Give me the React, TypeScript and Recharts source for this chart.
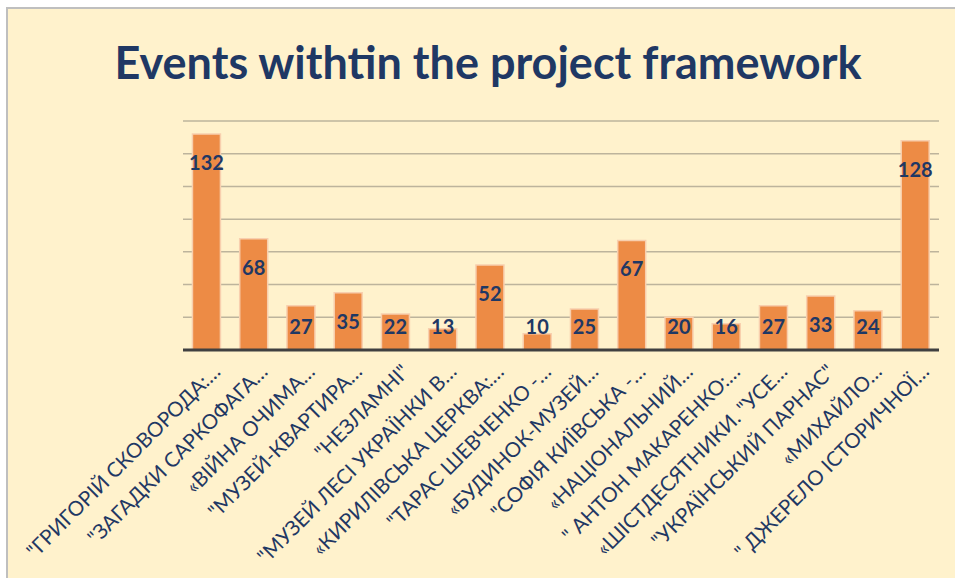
import { BarChart, Bar, XAxis, YAxis, CartesianGrid, LabelList } from "recharts";

const categories = [
  "\"ГРИГОРІЙ СКОВОРОДА:…",
  "\"ЗАГАДКИ САРКОФАГА…",
  "«ВІЙНА ОЧИМА…",
  "\"МУЗЕЙ-КВАРТИРА…",
  "\"НЕЗЛАМНІ\"",
  "\"МУЗЕЙ ЛЕСІ УКРАЇНКИ В…",
  "«КИРИЛІВСЬКА ЦЕРКВА:…",
  "\"ТАРАС ШЕВЧЕНКО -…",
  "«БУДИНОК-МУЗЕЙ…",
  "\"СОФІЯ КИЇВСЬКА -…",
  "«НАЦІОНАЛЬНИЙ…",
  "\" АНТОН МАКАРЕНКО:…",
  "«ШІСТДЕСЯТНИКИ. \"УСЕ…",
  "\"УКРАЇНСЬКИЙ ПАРНАС\"",
  "«МИХАЙЛО…",
  "\" ДЖЕРЕЛО ІСТОРИЧНОЇ…",
];

const events = [132, 68, 27, 35, 22, 13, 52, 10, 25, 67, 20, 16, 27, 33, 24, 128];

const yTicks = [0, 20, 40, 60, 80, 100, 120, 140];

const data = categories.map((name, i) => ({ name, value: events[i] }));

const NAVY = "#1F3864";

function AxisTick(props: any) {
  const { x, y, payload } = props;
  const tx = x + 15;
  const ty = y + 15;
  return (
    <text
      x={tx}
      y={ty}
      transform={`rotate(-45, ${tx}, ${ty})`}
      textAnchor="end"
      fill={NAVY}
      fontFamily="Lato, sans-serif"
      fontSize={20.5}
    >
      {payload.value}
    </text>
  );
}

function ValueLabel(props: any) {
  const { x, y, width, height, value } = props;
  const cy = Math.min(y + 28, y + height - 24);
  return (
    <text
      x={x + width / 2}
      y={cy}
      textAnchor="middle"
      dominantBaseline="central"
      fill={NAVY}
      fontFamily="Lato, sans-serif"
      fontWeight="bold"
      fontSize={20}
    >
      {value}
    </text>
  );
}

export default function App() {
  return (
    <div
      style={{
        position: "fixed",
        left: 6,
        top: 7,
        width: 960,
        height: 580,
        background: "#FFF2CC",
        borderLeft: "2px solid #BFBFBF",
        borderTop: "2px solid #BFBFBF",
        overflow: "hidden",
      }}
    >
      <style>{`html, body { overflow: hidden; }`}</style>
      <div
        style={{
          position: "absolute",
          top: 28,
          left: 0,
          width: 960,
          textAlign: "center",
          fontFamily: "Lato, sans-serif",
          fontWeight: "bold",
          fontSize: 45,
          color: NAVY,
          lineHeight: "50px",
        }}
      >
        Events withtin the project framework
      </div>
      <div style={{ position: "absolute", top: 1, left: 1 }}>
        <BarChart
          width={952}
          height={567}
          data={data}
          margin={{ top: 111, right: 22, bottom: 28, left: 174 }}
          barCategoryGap="20%"
        >
          <CartesianGrid vertical={false} stroke="#BDB49C" strokeWidth={1.5} />
          <YAxis hide domain={[0, 140]} ticks={yTicks} />
          <XAxis
            dataKey="name"
            interval={0}
            height={199}
            tickLine={false}
            axisLine={{ stroke: "#404040", strokeWidth: 3 }}
            tick={<AxisTick />}
          />
          <Bar
            dataKey="value"
            fill="#ED8B45"
            stroke="#F8CFAE"
            strokeWidth={1.5}
            isAnimationActive={false}
          >
            <LabelList dataKey="value" content={<ValueLabel />} />
          </Bar>
        </BarChart>
      </div>
    </div>
  );
}
